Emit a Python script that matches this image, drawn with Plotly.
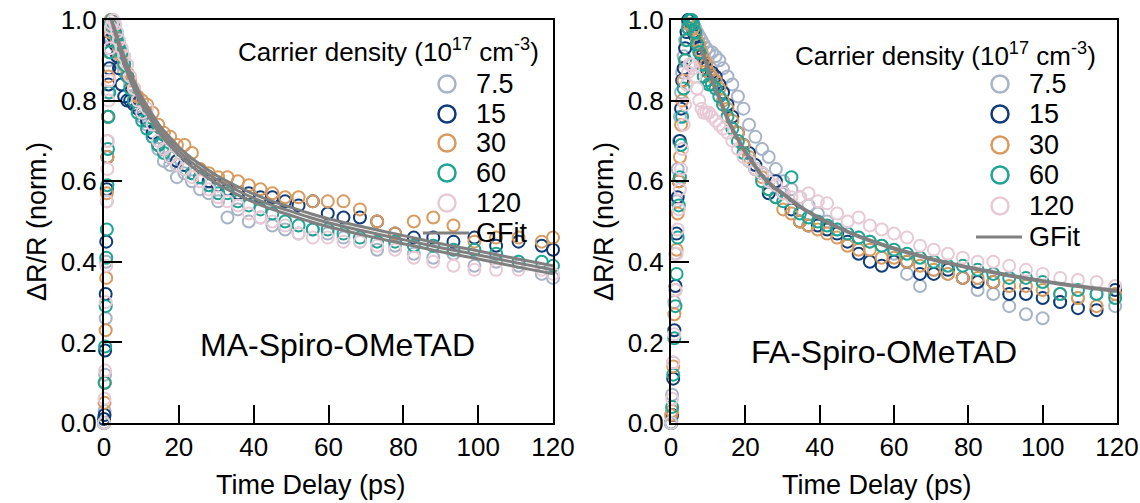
import plotly.graph_objects as go

# ---------------- data: MA-Spiro-OMeTAD (left) ----------------
t_ma = [0.0, 0.15, 0.3, 0.45, 0.6, 0.75, 0.9, 1.05, 1.2, 1.4, 1.6, 1.8,
        2.1, 2.5, 3.0, 3.5, 4.0, 4.7, 5.4, 6.2, 7.0, 8.0, 9.0, 10.2, 11.5, 13.0,
        14.5, 16.0, 17.7, 19.5, 21.5, 23.5, 25.7, 28.0, 30.5, 33.0, 35.8, 38.7,
        41.8, 45.0, 48.4, 52.0, 55.8, 59.8, 64.0, 68.4, 73.0, 77.8, 82.8, 88.0,
        93.4, 99.0, 104.8, 110.8, 117.0, 120.0]

ma_7p5 = [0.00, 0.03, 0.12, 0.26, 0.40, 0.55, 0.70, 0.82, 0.90, 0.96, 0.99, 1.00,
          0.99, 0.97, 0.96, 0.93, 0.92, 0.89, 0.87, 0.86, 0.84, 0.81, 0.78, 0.76,
          0.74, 0.71, 0.68, 0.65, 0.64, 0.61, 0.62, 0.60, 0.58, 0.57, 0.55, 0.51,
          0.53, 0.50, 0.51, 0.49, 0.48, 0.47, 0.48, 0.47, 0.46, 0.45, 0.43, 0.44,
          0.42, 0.41, 0.42, 0.39, 0.40, 0.39, 0.37, 0.36]
ma_15 = [0.01, 0.02, 0.18, 0.32, 0.45, 0.58, 0.66, 0.76, 0.84, 0.88, 0.95, 0.99,
         0.98, 0.96, 0.94, 0.91, 0.88, 0.84, 0.81, 0.80, 0.80, 0.79, 0.78, 0.77,
         0.75, 0.72, 0.69, 0.68, 0.66, 0.65, 0.64, 0.62, 0.61, 0.60, 0.59, 0.58,
         0.57, 0.57, 0.56, 0.56, 0.55, 0.54, 0.55, 0.52, 0.51, 0.51, 0.50, 0.47,
         0.46, 0.46, 0.45, 0.46, 0.44, 0.45, 0.44, 0.43]
ma_30 = [0.00, 0.05, 0.10, 0.23, 0.36, 0.57, 0.66, 0.76, 0.86, 0.92, 0.97, 1.00,
         1.00, 0.98, 0.97, 0.95, 0.93, 0.91, 0.89, 0.87, 0.85, 0.83, 0.81, 0.80,
         0.79, 0.77, 0.74, 0.72, 0.71, 0.69, 0.69, 0.67, 0.63, 0.62, 0.61, 0.61,
         0.60, 0.59, 0.58, 0.57, 0.56, 0.56, 0.55, 0.55, 0.55, 0.53, 0.50, 0.47,
         0.50, 0.51, 0.49, 0.45, 0.46, 0.46, 0.45, 0.46]
ma_60 = [0.00, 0.10, 0.19, 0.29, 0.41, 0.48, 0.59, 0.68, 0.76, 0.82, 0.92, 0.99,
         1.00, 0.99, 0.97, 0.96, 0.94, 0.92, 0.89, 0.86, 0.83, 0.80, 0.77, 0.75,
         0.73, 0.71, 0.69, 0.67, 0.66, 0.64, 0.63, 0.62, 0.61, 0.59, 0.57, 0.57,
         0.55, 0.54, 0.53, 0.52, 0.50, 0.49, 0.48, 0.48, 0.47, 0.46, 0.45, 0.45,
         0.44, 0.44, 0.43, 0.43, 0.42, 0.40, 0.40, 0.39]
ma_120 = [0.00, 0.06, 0.13, 0.30, 0.39, 0.55, 0.63, 0.70, 0.80, 0.85, 0.93, 0.98,
          0.99, 1.00, 0.99, 0.97, 0.95, 0.93, 0.91, 0.89, 0.86, 0.83, 0.80, 0.77,
          0.78, 0.74, 0.70, 0.68, 0.66, 0.64, 0.63, 0.61, 0.60, 0.58, 0.56, 0.55,
          0.54, 0.52, 0.51, 0.50, 0.49, 0.47, 0.46, 0.46, 0.45, 0.45, 0.44, 0.43,
          0.41, 0.40, 0.39, 0.38, 0.38, 0.38, 0.38, 0.37]

fit_t_ma = [2, 3, 4, 5, 6, 7, 8, 10, 12, 14, 16, 18, 20, 23, 26, 30, 35, 40,
            45, 50, 55, 60, 70, 80, 90, 100, 110, 120]
fit_ma_a = [1.00, 0.975, 0.945, 0.92, 0.895, 0.87, 0.85, 0.81, 0.78, 0.75, 0.725,
            0.705, 0.685, 0.66, 0.64, 0.615, 0.59, 0.568, 0.55, 0.535, 0.52, 0.507,
            0.485, 0.465, 0.445, 0.427, 0.408, 0.39]
fit_ma_b = [1.00, 0.97, 0.94, 0.91, 0.885, 0.86, 0.84, 0.80, 0.77, 0.74, 0.715,
            0.695, 0.675, 0.65, 0.63, 0.605, 0.58, 0.558, 0.54, 0.525, 0.51, 0.497,
            0.475, 0.455, 0.435, 0.417, 0.398, 0.38]
fit_ma_c = [1.00, 0.965, 0.935, 0.90, 0.875, 0.85, 0.83, 0.79, 0.76, 0.73, 0.705,
            0.685, 0.665, 0.64, 0.62, 0.595, 0.57, 0.548, 0.53, 0.515, 0.50, 0.487,
            0.465, 0.445, 0.425, 0.407, 0.388, 0.37]

# ---------------- data: FA-Spiro-OMeTAD (right) ----------------
t_fa = [0.0, 0.3, 0.6, 0.9, 1.2, 1.5, 1.8, 2.1, 2.4, 2.7, 3.0, 3.4, 3.8, 4.2, 4.6,
        5.0, 5.5, 6.0, 6.5, 7.0, 7.6, 8.2, 8.8, 9.5, 10.2, 11.0, 12.0, 13.0, 14.0,
        15.2, 16.5, 18.0, 19.5, 21.0, 22.7, 24.5, 26.3, 28.2, 30.2, 32.4, 34.7,
        37.0, 39.5, 42.0, 44.7, 47.5, 50.5, 53.5, 56.7, 60.0, 63.5, 67.0, 70.7,
        74.5, 78.5, 82.5, 86.7, 91.0, 95.5, 100.0, 104.7, 109.5, 114.5, 119.5]

fa_7p5 = [0.00, 0.07, 0.15, 0.30, 0.42, 0.55, 0.63, 0.70, 0.76, 0.82, 0.87, 0.91,
          0.95, 0.97, 0.99, 1.00, 0.99, 0.99, 0.98, 0.97, 0.96, 0.95, 0.94, 0.93,
          0.92, 0.92, 0.91, 0.90, 0.88, 0.86, 0.84, 0.81, 0.78, 0.74, 0.71, 0.68,
          0.66, 0.63, 0.60, 0.58, 0.56, 0.54, 0.52, 0.50, 0.48, 0.47, 0.46, 0.45,
          0.44, 0.42, 0.37, 0.34, 0.38, 0.37, 0.36, 0.33, 0.32, 0.29, 0.27, 0.26,
          0.30, 0.31, 0.32, 0.29]
fa_15 = [0.00, 0.02, 0.11, 0.23, 0.34, 0.47, 0.56, 0.60, 0.70, 0.78, 0.85, 0.88,
         0.93, 0.97, 1.00, 1.00, 0.99, 0.97, 0.96, 0.94, 0.93, 0.91, 0.89, 0.88,
         0.87, 0.87, 0.86, 0.84, 0.82, 0.79, 0.76, 0.72, 0.69, 0.67, 0.64, 0.62,
         0.57, 0.60, 0.57, 0.53, 0.50, 0.49, 0.49, 0.48, 0.47, 0.45, 0.42, 0.40,
         0.39, 0.40, 0.40, 0.37, 0.37, 0.38, 0.36, 0.35, 0.35, 0.32, 0.32, 0.31,
         0.30, 0.285, 0.28, 0.33]
fa_30 = [0.02, 0.03, 0.14, 0.27, 0.33, 0.43, 0.52, 0.60, 0.66, 0.74, 0.80, 0.85,
         0.90, 0.95, 0.98, 0.99, 1.00, 0.98, 0.97, 0.95, 0.94, 0.92, 0.90, 0.89,
         0.87, 0.86, 0.85, 0.83, 0.80, 0.78, 0.75, 0.72, 0.69, 0.66, 0.63, 0.61,
         0.58, 0.56, 0.53, 0.52, 0.50, 0.49, 0.48, 0.47, 0.46, 0.44, 0.43, 0.43,
         0.41, 0.41, 0.40, 0.39, 0.38, 0.37, 0.36, 0.36, 0.35, 0.34, 0.34, 0.33,
         0.32, 0.31, 0.29, 0.32]
fa_60 = [0.00, 0.04, 0.12, 0.21, 0.29, 0.37, 0.46, 0.54, 0.61, 0.69, 0.76, 0.83,
         0.90, 0.95, 0.98, 1.00, 1.00, 0.99, 0.97, 0.94, 0.92, 0.89, 0.86, 0.85,
         0.84, 0.84, 0.83, 0.81, 0.79, 0.76, 0.73, 0.70, 0.67, 0.65, 0.63, 0.60,
         0.58, 0.56, 0.55, 0.61, 0.52, 0.51, 0.50, 0.49, 0.48, 0.47, 0.46, 0.45,
         0.44, 0.43, 0.42, 0.41, 0.40, 0.39, 0.39, 0.38, 0.37, 0.36, 0.36, 0.35,
         0.32, 0.33, 0.32, 0.31]
fa_120 = [0.00, 0.06, 0.15, 0.22, 0.33, 0.42, 0.48, 0.53, 0.58, 0.63, 0.68, 0.74,
          0.79, 0.84, 0.87, 0.89, 0.89, 0.88, 0.86, 0.83, 0.80, 0.78, 0.77, 0.77,
          0.77, 0.76, 0.75, 0.74, 0.73, 0.72, 0.70, 0.68, 0.66, 0.65, 0.63, 0.62,
          0.60, 0.59, 0.57, 0.56, 0.56, 0.57, 0.55, 0.545, 0.52, 0.50, 0.51, 0.49,
          0.48, 0.47, 0.46, 0.44, 0.43, 0.42, 0.41, 0.40, 0.40, 0.39, 0.38, 0.37,
          0.36, 0.355, 0.35, 0.34]

fit_t_fa = [8, 9, 10, 11, 12, 13.5, 15, 16.5, 18, 19.5, 21, 24, 27, 30, 35, 40,
            45, 50, 55, 60, 65, 70, 75, 80, 85, 90, 95, 100, 105, 110, 115, 120]
fit_fa = [0.93, 0.905, 0.88, 0.855, 0.83, 0.795, 0.76, 0.73, 0.705, 0.68, 0.66,
          0.62, 0.59, 0.57, 0.535, 0.508, 0.485, 0.465, 0.448, 0.433, 0.42, 0.407,
          0.396, 0.386, 0.377, 0.368, 0.36, 0.352, 0.345, 0.339, 0.333, 0.328]

labels = ["7.5", "15", "30", "60", "120"]
fit_label = "GFit"
legend_title = "Carrier density (10<sup>17</sup> cm<sup>-3</sup>)"
panel_labels = ["MA-Spiro-OMeTAD", "FA-Spiro-OMeTAD"]
x_title = "Time Delay (ps)"
y_title = "ΔR/R (norm.)"
x_ticks = [0, 20, 40, 60, 80, 100, 120]
y_ticks = [0.0, 0.2, 0.4, 0.6, 0.8, 1.0]

colors = ["#A7B4C7", "#0F3B78", "#D89A5E", "#1CA594", "#E8CAD6"]
ma_series = [ma_7p5, ma_15, ma_30, ma_60, ma_120]
fa_series = [fa_7p5, fa_15, fa_30, fa_60, fa_120]
fit_color = "#808080"

W, H = 1140, 503
FONT = "Liberation Sans, Arial, sans-serif"


def px_x(p):
    return p / W


def px_y(p):
    return 1 - p / H


fig = go.Figure()

for lab, col, ys in zip(labels, colors, ma_series):
    fig.add_trace(go.Scatter(
        x=t_ma, y=ys, mode="markers", name=lab, showlegend=False,
        marker=dict(symbol="circle-open", size=12, color=col, line=dict(width=2, color=col)),
        cliponaxis=False, xaxis="x", yaxis="y"))
for fy in [fit_ma_a, fit_ma_b, fit_ma_c]:
    fig.add_trace(go.Scatter(
        x=fit_t_ma, y=fy, mode="lines", name=fit_label, showlegend=False,
        line=dict(color=fit_color, width=3, shape="spline"),
        xaxis="x", yaxis="y"))

for lab, col, ys in zip(labels, colors, fa_series):
    fig.add_trace(go.Scatter(
        x=t_fa, y=ys, mode="markers", name=lab, showlegend=False,
        marker=dict(symbol="circle-open", size=12, color=col, line=dict(width=2, color=col)),
        cliponaxis=False, xaxis="x2", yaxis="y2"))
fig.add_trace(go.Scatter(
    x=fit_t_fa, y=fit_fa, mode="lines", name=fit_label, showlegend=False,
    line=dict(color=fit_color, width=4, shape="spline"), xaxis="x2", yaxis="y2"))

TICKF = dict(family=FONT, size=26, color="black")
TITLEF = dict(family=FONT, size=27, color="black")
xax = dict(range=[0, 120], tickvals=x_ticks,
           showline=True, linecolor="black", linewidth=2, mirror=True,
           ticks="inside", ticklen=18, tickwidth=2, tickcolor="black",
           showgrid=False, zeroline=False, tickfont=TICKF)
yax = dict(range=[0, 1.0], tickvals=y_ticks, tickformat=".1f",
           showline=True, linecolor="black", linewidth=2, mirror=True,
           ticks="inside", ticklen=18, tickwidth=2, tickcolor="black",
           showgrid=False, zeroline=False, tickfont=TICKF,
           title=dict(text=y_title, font=TITLEF, standoff=6))

ydom = [px_y(423), px_y(20)]

# hand-built legends (compact row spacing as in the reference)
shapes = []
annotations = []
legend_specs = [
    dict(title_x=388, title_y=50, mark_x=447, text_x=474, rows=[84, 114, 143, 173, 203, 233]),
    dict(title_x=945, title_y=54, mark_x=1000, text_x=1027, rows=[84, 114, 145, 175, 206, 237]),
]
LEGF = dict(family=FONT, size=27, color="black")
for spec in legend_specs:
    annotations.append(dict(text=legend_title, x=px_x(spec["title_x"]), y=px_y(spec["title_y"]),
                            xref="paper", yref="paper", xanchor="center", yanchor="middle",
                            showarrow=False, font=dict(family=FONT, size=26, color="black")))
    for lab, col, ry in zip(labels + [fit_label], colors + [fit_color], spec["rows"]):
        if lab == fit_label:
            shapes.append(dict(type="line", xref="paper", yref="paper",
                               xsizemode="pixel", ysizemode="pixel",
                               xanchor=px_x(spec["mark_x"]), yanchor=px_y(ry),
                               x0=-24, x1=22, y0=0, y1=0,
                               line=dict(color=fit_color, width=3)))
        else:
            shapes.append(dict(type="circle", xref="paper", yref="paper",
                               xsizemode="pixel", ysizemode="pixel",
                               xanchor=px_x(spec["mark_x"]), yanchor=px_y(ry),
                               x0=-8.5, x1=8.5, y0=-8.5, y1=8.5,
                               line=dict(color=col, width=2.5), fillcolor="rgba(0,0,0,0)"))
        annotations.append(dict(text=lab, x=px_x(spec["text_x"]), y=px_y(ry),
                                xref="paper", yref="paper", xanchor="left", yanchor="middle",
                                showarrow=False, font=LEGF))

annotations.append(dict(text=panel_labels[0], x=px_x(337), y=px_y(345), xref="paper", yref="paper",
                        xanchor="center", yanchor="middle", showarrow=False,
                        font=dict(family=FONT, size=32, color="black")))
annotations.append(dict(text=panel_labels[1], x=px_x(884), y=px_y(352), xref="paper", yref="paper",
                        xanchor="center", yanchor="middle", showarrow=False,
                        font=dict(family=FONT, size=32, color="black")))
# x-axis titles (offset slightly left of the axis centre, as in the reference)
for cx in (311, 877):
    annotations.append(dict(text=x_title, x=px_x(cx), y=px_y(485), xref="paper", yref="paper",
                            xanchor="center", yanchor="middle", showarrow=False, font=TITLEF))

fig.update_layout(
    width=W, height=H, margin=dict(l=0, r=0, t=0, b=0, autoexpand=False),
    paper_bgcolor="white", plot_bgcolor="white",
    font=dict(family=FONT, color="black"),
    showlegend=False,
    xaxis=dict(domain=[px_x(104), px_x(553)], anchor="y", **xax),
    yaxis=dict(domain=ydom, anchor="x", **yax),
    xaxis2=dict(domain=[px_x(671), px_x(1117)], anchor="y2", **xax),
    yaxis2=dict(domain=ydom, anchor="x2", **yax),
    shapes=shapes,
    annotations=annotations,
)

fig.write_html("out.html")
